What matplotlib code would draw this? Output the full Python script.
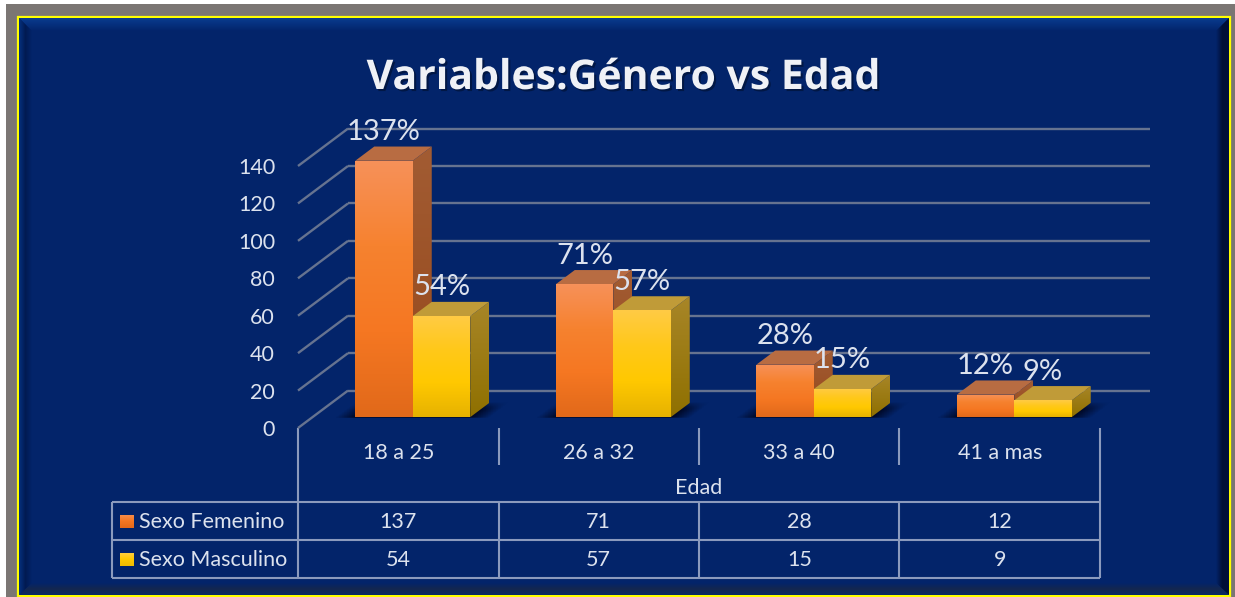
import numpy as np
import matplotlib
matplotlib.use("Agg")
import matplotlib.pyplot as plt
from matplotlib.patches import Rectangle, Polygon
from matplotlib.colors import LinearSegmentedColormap, to_rgb
from matplotlib.transforms import blended_transform_factory
import matplotlib.patheffects as pe

categories = ["18 a 25", "26 a 32", "33 a 40", "41 a mas"]
series_names = ["Sexo Femenino", "Sexo Masculino"]
femenino = [137, 71, 28, 12]
masculino = [54, 57, 15, 9]
pct_femenino = ["137%", "71%", "28%", "12%"]
pct_masculino = ["54%", "57%", "15%", "9%"]
y_ticks = [0, 20, 40, 60, 80, 100, 120, 140]
axis_title = "Edad"
title = "Variables:Género vs Edad"

W, H = 1235, 597
FONT = "Lato"
plt.rcParams["font.family"] = [FONT, "DejaVu Sans"]
BG = "#03246A"
TXT = "#DCE2EE"
LINE = "#8B9ABD"
GRID = "#667390"
FS = 15.5

fig = plt.figure(figsize=(W / 100, H / 100), dpi=100, facecolor="white")
ov = fig.add_axes([0, 0, 1, 1], zorder=0)
ov.set_xlim(0, W)
ov.set_ylim(H, 0)
ov.axis("off")


def grad(axis, verts, stops, horizontal=False, z=1, y_up=False):
    """Paint a polygon with a colour ramp (first stop = visual top / left)."""
    xs = [v[0] for v in verts]
    ys = [v[1] for v in verts]
    cmap = LinearSegmentedColormap.from_list("g", stops, N=256)
    g = np.linspace(0, 1, 256).reshape(-1, 1)
    if horizontal:
        g = g.T
    if y_up:
        ext = (min(xs), max(xs), min(ys), max(ys))
    else:
        ext = (min(xs), max(xs), max(ys), min(ys))
    im = axis.imshow(g, cmap=cmap, vmin=0, vmax=1, aspect="auto", origin="upper",
                     extent=ext, zorder=z, interpolation="nearest")
    clip = Polygon(verts, closed=True, transform=axis.transData, fc="none", ec="none")
    im.set_clip_path(clip)
    im.set_clip_box(fig.bbox)
    return im


# page frame
ov.add_patch(Rectangle((6, 4), W - 6, H - 4, fc="#7B7673", ec="none", zorder=0))
ov.add_patch(Rectangle((18, 17), 1212, 579, fc=BG, ec="#FFFF00", lw=1.6, zorder=1))
L, T, R, B = 19, 18, 1229, 595
iL, iT, iR, iB = 32, 31, 1216, 583
grad(ov, [(L, T), (R, T), (iR, iT), (iL, iT)], ["#0A3C8E", "#06307E", BG], z=2)
grad(ov, [(L, T), (iL, iT), (iL, iB), (L, B)], ["#05317F", "#011A52", BG], horizontal=True, z=2)
grad(ov, [(R, T), (iR, iT), (iR, iB), (R, B)], [BG, "#010F36", "#00103A"], horizontal=True, z=2)
grad(ov, [(L, B), (iL, iB), (iR, iB), (R, B)], [BG, "#14274F", "#0A2A66"], z=2)
ov.set_xlim(0, W)
ov.set_ylim(H, 0)

# title
ov.text(624, 89, title, ha="center", va="baseline", fontsize=29.5, fontweight="bold",
        family=["Open Sans", "DejaVu Sans"], color="#EFF1F6", zorder=5,
        path_effects=[pe.withSimplePatchShadow(offset=(1.5, -1.5), shadow_rgbFace="#000000", alpha=0.35)])

# chart axes: front plane of the 3-D box
ax = fig.add_axes([298 / W, 1 - 428 / H, (1100 - 298) / W, (428 - 166) / H], zorder=2)
ax.patch.set_alpha(0)
for s in ax.spines.values():
    s.set_visible(False)
DX = 50 / 200.5       # depth in category units
DY = 20.0             # depth in value units
FRONT, BACK = 0.29, 0.67
W_BAR = 57.5 / 200.5
ddx = (BACK - FRONT) * DX
ddy = (BACK - FRONT) * DY


def shadow(x0, x1, floor):
    """soft floor shadow under a bar group"""
    nx, ny = 300, 60
    wx = x1 - x0
    pad = 0.35 * wx
    xs = np.linspace(x0 - pad, x1 + ddx + pad, nx)
    ys = np.linspace(floor - 1, floor + ddy * 1.1, ny)
    X, Y = np.meshgrid(xs, ys)
    v = (Y - floor) / ddy
    u = (X - x0 - v * ddx) / wx
    ramp = 0.17
    au = np.clip(np.minimum(u + ramp, 1 + ramp - u) / ramp, 0, 1)
    av = np.clip((1.05 - v) / 0.5, 0, 1) * np.clip((v + 0.1) / 0.1, 0, 1)
    rgba = np.zeros((ny, nx, 4))
    rgba[..., :3] = to_rgb("#000826")
    rgba[..., 3] = au * av
    ax.imshow(rgba, aspect="auto", origin="lower", zorder=2, clip_on=False,
              extent=(xs[0], xs[-1], ys[0], ys[-1]), interpolation="nearest")


styles = [
    dict(front=["#F7915A", "#F6822F", "#F57722", "#E1691A"], side=["#A25C33", "#96481B"], top="#B86C42"),
    dict(front=["#FFCB45", "#FFC81A", "#FFC800", "#E6B200"], side=["#A88628", "#8F7000"], top="#C09B38"),
]

floor = FRONT * DY
for i in range(len(categories)):
    x_mid = i + FRONT * DX
    shadow(x_mid - W_BAR, x_mid + W_BAR, floor)

for i in range(len(categories)):
    vals = (femenino[i], masculino[i])
    pcts = (pct_femenino[i], pct_masculino[i])
    x_mid = i + FRONT * DX
    for j, (v, st) in enumerate(zip(vals, styles)):
        x0 = x_mid - W_BAR + j * W_BAR
        x1 = x0 + W_BAR
        top = floor + v
        z = 3 + 0.1 * j
        side = [(x1, floor), (x1, top), (x1 + ddx, top + ddy), (x1 + ddx, floor + ddy)]
        grad(ax, side, st["side"], z=z, y_up=True)
        ax.add_patch(Polygon([(x0, top), (x1, top), (x1 + ddx, top + ddy), (x0 + ddx, top + ddy)],
                             closed=True, fc=st["top"], ec="none", zorder=z, clip_on=False))
        ax.bar(x0, v, width=W_BAR, bottom=floor, align="edge", color=st["front"][2],
               zorder=z + 0.01, clip_on=False)
        front = [(x0, floor), (x0, top), (x1, top), (x1, floor)]
        grad(ax, front, st["front"], z=z + 0.02, y_up=True)
        ax.annotate(pcts[j], xy=((x0 + x1) / 2, top), xytext=(0, 20.6), textcoords="offset points",
                    ha="center", va="center", fontsize=21, color=TXT, zorder=6, annotation_clip=False)

# gridlines on the side and back walls
for t in y_ticks:
    ax.plot([-0.5, -0.5 + DX], [t, t + DY], color=GRID, lw=1.7, zorder=1, clip_on=False, solid_capstyle="butt")
    ax.plot([-0.5 + DX, 3.5 + DX], [t + DY, t + DY], color=GRID, lw=1.7, zorder=1, clip_on=False, solid_capstyle="butt")

ax.set_xlim(-0.5, 3.5)
ax.set_ylim(0, 140)
ax.set_yticks(y_ticks)
ax.set_xticks(range(len(categories)), categories)
ax.tick_params(axis="y", length=0, pad=16.5, labelsize=FS, labelcolor=TXT)
ax.tick_params(axis="x", length=0, pad=10.5, labelsize=FS, labelcolor=TXT)

# data table under the axis
blend = blended_transform_factory(ax.transData, ov.transData)
t_kw = dict(color=LINE, lw=1.5, zorder=4, solid_capstyle="butt")
ROWS = [502, 540, 578]
for y in ROWS:
    ov.plot([112, 1100], [y, y], **t_kw)
ov.plot([112, 112], [502, 578], **t_kw)
ov.plot([298, 298], [428, 578], **t_kw)
ov.plot([1099.5, 1099.5], [428, 578], **t_kw)
for xc in (498.5, 698.5, 899):
    ov.plot([xc, xc], [428, 465], **t_kw)
    ov.plot([xc, xc], [502, 578], **t_kw)

ov.text(698.5, 488, axis_title, ha="center", va="center", fontsize=FS, color=TXT, zorder=5)
swatches = (["#F79050", "#F57722", "#E5691A"], ["#FFCF4A", "#FFC800", "#F0BB00"])
for row, (name, vals, swatch) in enumerate(zip(series_names, (femenino, masculino), swatches)):
    yc = (ROWS[row] + ROWS[row + 1]) / 2 + 0.5
    grad(ov, [(120, yc - 7), (134, yc - 7), (134, yc + 7), (120, yc + 7)], swatch, z=5)
    ov.text(139, yc, name, ha="left", va="center", fontsize=FS, color=TXT, zorder=5)
    for i, v in enumerate(vals):
        ov.text(i, yc, str(v), transform=blend, ha="center", va="center", fontsize=FS, color=TXT, zorder=5)
ov.set_xlim(0, W)
ov.set_ylim(H, 0)

fig.savefig("out.png", dpi=100, facecolor=fig.get_facecolor())
